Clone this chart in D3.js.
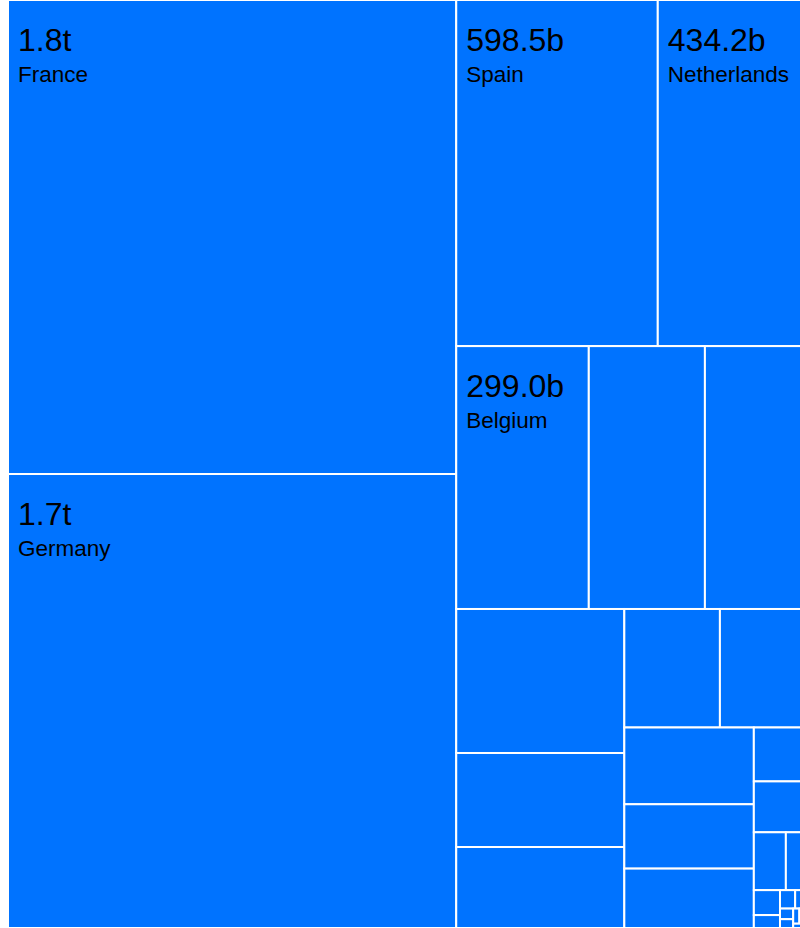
<!DOCTYPE html>
<html>
<head>
<meta charset="utf-8">
<script src="https://cdn.jsdelivr.net/npm/d3@7"></script>
<style>
  html, body { margin: 0; padding: 0; background: #ffffff; overflow: hidden; }
  svg { display: block; }
</style>
</head>
<body>
<svg id="chart" width="800" height="928"></svg>
<script>
// ---- Data (values in billions; only the five largest are labelled) ----
const countries = [
  "France", "Germany", "Spain", "Netherlands", "Belgium",
  null, null, null, null, null, null, null, null, null, null,
  null, null, null, null, null, null, null, null, null, null,
  null, null, null
];
const values = [
  1823, 1746, 598.5, 434.2, 299.0,
  261.9, 223.5, 207.7, 135.6, 116.8, 97.2, 85.5, 85.3, 71.5, 66.0,
  23.2, 21.9, 15.9, 9.0, 5.6, 2.9, 2.4, 1.4, 1.2, 1.0,
  0.8, 0.6, 0.4
];

// ---- Layout ----
const height = 928;
const offsetX = 8;
const layoutW = 796, layoutH = 783;

const data = { children: values.map((v, i) => ({ name: countries[i], value: v })) };
const root = d3.hierarchy(data).sum(d => d.children ? 0 : d.value);
d3.treemap().size([layoutW, layoutH]).tile(d3.treemapSquarify)(root);

const x = d3.scaleLinear().domain([0, layoutW]).range([offsetX, offsetX + layoutW]);
const y = d3.scaleLinear().domain([0, layoutH]).range([0, height]);

const fmt = v => v >= 1000 ? d3.format(".1f")(v / 1000) + "t" : d3.format(".1f")(v) + "b";

const svg = d3.select("#chart");
const leaves = root.leaves();

const cell = svg.append("g").selectAll("g")
  .data(leaves)
  .join("g");

cell.append("rect")
  .attr("x", d => x(d.x0))
  .attr("y", d => y(d.y0))
  .attr("width", d => x(d.x1) - x(d.x0))
  .attr("height", d => y(d.y1) - y(d.y0))
  .attr("fill", "#0073ff")
  .attr("stroke", "#ffffff")
  .attr("stroke-width", 2);

const labeled = cell.filter(d => d.data.name);

labeled.append("text")
  .attr("x", d => x(d.x0) + 10)
  .attr("y", d => y(d.y0) + 51)
  .attr("fill", "#000")
  .style("font-family", "'Liberation Sans', Arial, sans-serif")
  .style("font-size", "32px")
  .text(d => fmt(d.data.value));

labeled.append("text")
  .attr("x", d => x(d.x0) + 10)
  .attr("y", d => y(d.y0) + 82)
  .attr("fill", "#000")
  .style("font-family", "'Liberation Sans', Arial, sans-serif")
  .style("font-size", "22.5px")
  .text(d => d.data.name);
</script>
</body>
</html>
